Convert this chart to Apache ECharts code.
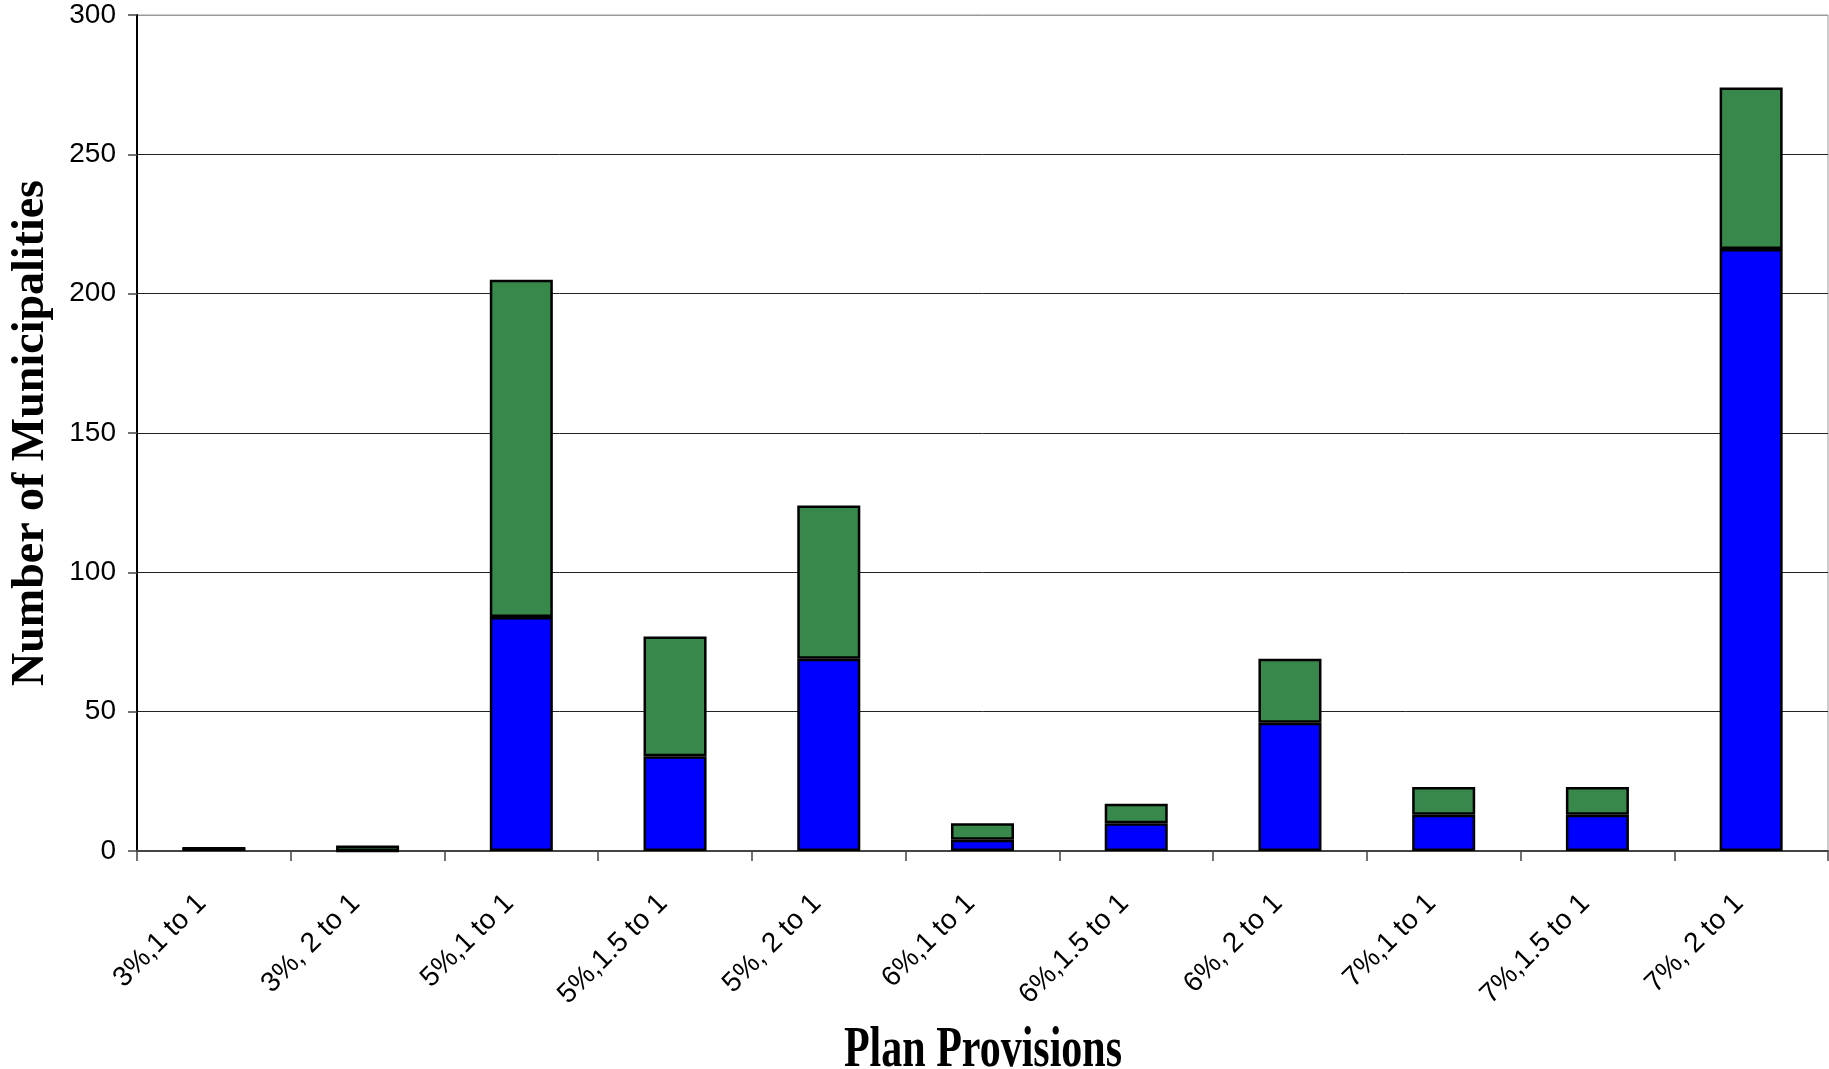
<!DOCTYPE html>
<html>
<head>
<meta charset="utf-8">
<title>Number of Municipalities by Plan Provisions</title>
<script src="https://cdn.jsdelivr.net/npm/echarts@6/dist/echarts.min.js"></script>
<style>
  html, body { margin: 0; padding: 0; background: #ffffff; }
  #chart { width: 1829px; height: 1069px; }
</style>
</head>
<body>
<div id="chart"></div>
<script>
// Plan provision categories (accrual rate, match ratio)
const categories = [
  '3%,1 to 1', '3%, 2 to 1', '5%,1 to 1', '5%,1.5 to 1', '5%, 2 to 1',
  '6%,1 to 1', '6%,1.5 to 1', '6%, 2 to 1', '7%,1 to 1', '7%,1.5 to 1', '7%, 2 to 1'
];
// Lower (blue) segment of each stack
const blueValues = [1, 0, 84, 34, 69, 4, 10, 46, 13, 13, 216];
// Upper (green) segment of each stack
const greenValues = [0, 2, 121, 43, 55, 6, 7, 23, 10, 10, 58];
// Value axis ticks
const yTicks = [0, 50, 100, 150, 200, 250, 300];

const chart = echarts.init(document.getElementById('chart'), null, { renderer: 'canvas' });

const barBorder = { borderColor: '#000000', borderWidth: 2.5 };

chart.setOption({
  animation: false,
  backgroundColor: '#ffffff',
  grid: {
    left: 137, right: 1, top: 15, bottom: 218,
    outerBoundsMode: 'none',
    containLabel: false,
    show: true, borderColor: '#9a9a9a', borderWidth: 1, backgroundColor: 'transparent'
  },
  // x-axis title, drawn slightly tall
  graphic: [
    {
      type: 'text',
      x: 983, y: 1080,
      scaleX: 1, scaleY: 1.35,
      style: {
        text: 'Plan Provisions',
        font: 'bold 42px "Liberation Serif"',
        fill: '#000',
        textAlign: 'center',
        textVerticalAlign: 'bottom'
      }
    }
  ],
  xAxis: {
    type: 'category',
    data: categories,
    boundaryGap: true,
    axisLine: { lineStyle: { color: '#444', width: 2 } },
    axisTick: { show: true, alignWithLabel: false, length: 10, lineStyle: { color: '#444', width: 1.5 } },
    axisLabel: {
      interval: 0, rotate: 45, margin: 36,
      padding: [0, 17, 0, 0],
      fontFamily: 'Liberation Sans', fontSize: 28, color: '#000'
    },
    splitLine: { show: false }
  },
  yAxis: {
    type: 'value',
    min: yTicks[0], max: yTicks[yTicks.length - 1], interval: 50,
    name: 'Number of Municipalities',
    nameLocation: 'middle',
    nameGap: 83,
    nameTextStyle: { fontFamily: 'Liberation Serif', fontWeight: 'bold', fontSize: 46, color: '#000' },
    axisLine: { show: true, lineStyle: { color: '#000', width: 2 } },
    axisTick: { show: true, inside: false, length: 9, lineStyle: { color: '#444', width: 1.5 } },
    axisLabel: { margin: 21, fontFamily: 'Liberation Sans', fontSize: 28, color: '#000' },
    splitLine: {
      show: true,
      lineStyle: { color: ['#222', '#222', '#222', '#222', '#222', '#222', '#9a9a9a'], width: 1 }
    }
  },
  series: [
    {
      name: 'Blue', type: 'bar', stack: 'total', data: blueValues,
      barWidth: '41%',
      itemStyle: Object.assign({ color: '#0000ff' }, barBorder)
    },
    {
      name: 'Green', type: 'bar', stack: 'total', data: greenValues,
      barWidth: '41%',
      itemStyle: Object.assign({ color: '#37884a' }, barBorder)
    }
  ]
});
</script>
</body>
</html>
